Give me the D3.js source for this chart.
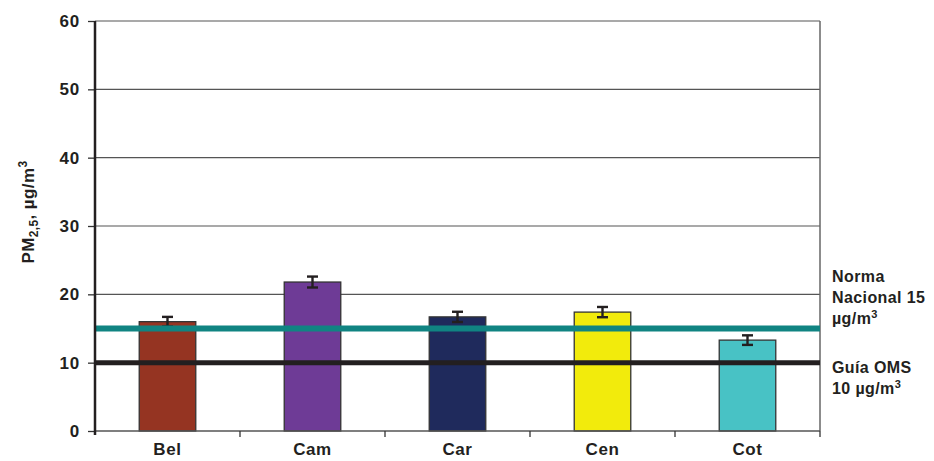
<!DOCTYPE html>
<html>
<head>
<meta charset="utf-8">
<script src="https://cdn.jsdelivr.net/npm/d3@7"></script>
<style>
  html, body { margin: 0; padding: 0; background: #fff; }
  svg { display: block; font-family: "Liberation Sans", Arial, Helvetica, sans-serif; font-weight: bold; }
</style>
</head>
<body>
<svg id="chart" width="934" height="461"></svg>
<script>
// Monitoring sites and mean PM2.5 concentration (µg/m³) with error margins
const sites = ["Bel", "Cam", "Car", "Cen", "Cot"];
const pm25 = [16.0, 21.8, 16.7, 17.4, 13.3];
const errors = [0.7, 0.8, 0.75, 0.75, 0.7];
const barColors = ["#953422", "#6e3b96", "#1f2a5c", "#f2eb0c", "#48c2c5"];
const yTicks = [0, 10, 20, 30, 40, 50, 60];

// Reference limits
const nationalStandard = 15;
const whoGuideline = 10;

const svg = d3.select("#chart");
const margin = { left: 95, right: 114, top: 21, bottom: 30 };
const W = 934, H = 461;
const x0 = margin.left, x1 = W - margin.right;
const yTop = margin.top, yBot = H - margin.bottom;
const ink = "#231f20";

const x = d3.scaleBand().domain(sites).range([x0, x1]).padding(0);
const y = d3.scaleLinear().domain([0, 60]).range([yBot, yTop]);
const barW = x.bandwidth() * 0.39;

// Horizontal grid lines
svg.append("g").selectAll("line")
  .data(yTicks.filter(t => t > 0))
  .join("line")
  .attr("x1", x0).attr("x2", x1)
  .attr("y1", d => y(d)).attr("y2", d => y(d))
  .attr("stroke", "#555").attr("stroke-width", 1.2);

// Right frame edge
svg.append("line")
  .attr("x1", x1).attr("x2", x1).attr("y1", yTop).attr("y2", yBot)
  .attr("stroke", "#666").attr("stroke-width", 1.5);

// Bars
svg.append("g").selectAll("rect")
  .data(sites)
  .join("rect")
  .attr("x", d => x(d) + (x.bandwidth() - barW) / 2)
  .attr("width", barW)
  .attr("y", (d, i) => y(pm25[i]))
  .attr("height", (d, i) => y(0) - y(pm25[i]))
  .attr("fill", (d, i) => barColors[i])
  .attr("stroke", "#333").attr("stroke-width", 1.3);

// Error bars
const eb = svg.append("g").attr("stroke", ink).attr("stroke-width", 2.4);
sites.forEach((s, i) => {
  const cx = x(s) + x.bandwidth() / 2;
  const hi = y(pm25[i] + errors[i]), lo = y(pm25[i] - errors[i]);
  eb.append("line").attr("x1", cx).attr("x2", cx).attr("y1", hi).attr("y2", lo);
  eb.append("line").attr("x1", cx - 5.5).attr("x2", cx + 5.5).attr("y1", hi).attr("y2", hi);
  eb.append("line").attr("x1", cx - 5.5).attr("x2", cx + 5.5).attr("y1", lo).attr("y2", lo);
});

// Reference lines
function refLine(val, color, width) {
  svg.append("line")
    .attr("x1", x0).attr("x2", x1).attr("y1", y(val)).attr("y2", y(val))
    .attr("stroke", color).attr("stroke-width", width);
}
refLine(nationalStandard, "#108482", 6);
refLine(whoGuideline, ink, 5);

// Bottom axis
const xAxis = svg.append("g");
xAxis.append("line")
  .attr("x1", x0).attr("x2", x1).attr("y1", yBot).attr("y2", yBot)
  .attr("stroke", "#555").attr("stroke-width", 1.5);
const boundaries = sites.map(s => x(s)).concat([x1]);
xAxis.selectAll("line.tick")
  .data(boundaries.slice(1))
  .join("line").attr("class", "tick")
  .attr("x1", d => d).attr("x2", d => d)
  .attr("y1", yBot).attr("y2", yBot + 6)
  .attr("stroke", "#333").attr("stroke-width", 1.3);
xAxis.selectAll("text")
  .data(sites)
  .join("text")
  .attr("x", d => x(d) + x.bandwidth() / 2)
  .attr("y", 455)
  .attr("text-anchor", "middle")
  .attr("font-size", 17)
  .attr("letter-spacing", 0.6)
  .attr("fill", ink)
  .text(d => d);

// Left axis
const yAxis = svg.append("g")
  .attr("transform", `translate(${x0},0)`)
  .call(d3.axisLeft(y).tickValues(yTicks).tickSize(7).tickPadding(8));
yAxis.select(".domain").remove();
yAxis.selectAll(".tick line").attr("stroke", "#333").attr("stroke-width", 1.3);
yAxis.selectAll(".tick text")
  .attr("font-size", 17).attr("font-weight", "bold")
  .attr("letter-spacing", 0.8)
  .attr("font-family", "Liberation Sans, Arial, sans-serif")
  .attr("fill", ink);
svg.append("line")
  .attr("x1", x0).attr("x2", x0).attr("y1", yTop).attr("y2", yBot + 4)
  .attr("stroke", ink).attr("stroke-width", 2.5);

// Y axis title
const yt = svg.append("text")
  .attr("transform", "translate(34,212) rotate(-90)")
  .attr("text-anchor", "middle")
  .attr("font-size", 17)
  .attr("letter-spacing", 0.4)
  .attr("fill", ink);
yt.append("tspan").text("PM");
yt.append("tspan").attr("font-size", 12).attr("dy", 4).text("2,5");
yt.append("tspan").attr("dy", -4).text(", µg/m");
yt.append("tspan").attr("font-size", 12).attr("dy", -7).text("3");

// Reference labels on the right
function label(lines, yStart) {
  const t = svg.append("text").attr("font-size", 16).attr("letter-spacing", 0.4).attr("fill", ink);
  lines.forEach((ln, i) => {
    const row = t.append("tspan").attr("x", 832).attr("y", yStart + i * 21);
    row.append("tspan").text(ln[0]);
    if (ln[1]) row.append("tspan").attr("font-size", 11).attr("dy", -6).text(ln[1]);
  });
}
label([["Norma"], ["Nacional 15"], ["µg/m", "3"]], 282);
label([["Guía OMS"], ["10 µg/m", "3"]], 373);
</script>
</body>
</html>
